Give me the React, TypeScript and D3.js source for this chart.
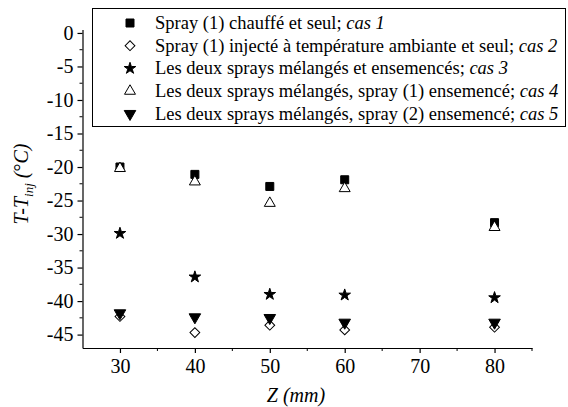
import { useEffect, useRef } from "react";
import * as d3 from "d3";

const Z = [30, 40, 50, 60, 80];
const CAS1 = [-20.0, -21.1, -22.9, -21.9, -28.3];
const CAS2 = [-42.3, -44.7, -43.6, -44.3, -43.9];
const CAS3 = [-29.9, -36.4, -39.0, -39.1, -39.5];
const CAS4 = [-20.2, -22.2, -25.4, -23.2, -29.0];
const CAS5 = [-41.8, -42.4, -42.5, -43.2, -43.2];

const X_TICKS = [30, 40, 50, 60, 70, 80];
const X_MINOR = [35, 45, 55, 65, 75, 85];
const Y_TICKS = [0, -5, -10, -15, -20, -25, -30, -35, -40, -45];
const Y_MINOR = [-2.5, -7.5, -12.5, -17.5, -22.5, -27.5, -32.5, -37.5, -42.5];

type Marker = "square" | "diamond" | "star" | "up" | "down";

const SERIES: { values: number[]; marker: Marker; label: string; cas: string }[] = [
  { values: CAS1, marker: "square", label: "Spray (1) chauffé et seul; ", cas: "cas 1" },
  { values: CAS2, marker: "diamond", label: "Spray (1) injecté à température ambiante et seul; ", cas: "cas 2" },
  { values: CAS3, marker: "star", label: "Les deux sprays mélangés et ensemencés; ", cas: "cas 3" },
  { values: CAS4, marker: "up", label: "Les deux sprays mélangés, spray (1) ensemencé; ", cas: "cas 4" },
  { values: CAS5, marker: "down", label: "Les deux sprays mélangés, spray (2) ensemencé; ", cas: "cas 5" },
];

const FONT = "Liberation Serif";

function symbolFor(m: Marker) {
  switch (m) {
    case "square":
      return { path: d3.symbol(d3.symbolSquare, 64)()!, rot: 0, filled: true };
    case "diamond":
      return { path: d3.symbol(d3.symbolSquare, 48)()!, rot: 45, filled: false };
    case "star":
      return { path: d3.symbol(d3.symbolStar, 42)()!, rot: 0, filled: true };
    case "up":
      return { path: d3.symbol(d3.symbolTriangle, 52)()!, rot: 0, filled: false };
    case "down":
      return { path: d3.symbol(d3.symbolTriangle, 58)()!, rot: 180, filled: true };
  }
}

export default function App() {
  const ref = useRef<SVGSVGElement | null>(null);

  useEffect(() => {
    const svg = d3.select(ref.current);
    svg.selectAll("*").remove();

    const x = d3.scaleLinear().domain([25, 85]).range([82.5, 532]);
    const y = d3.scaleLinear().domain([-47, 0.5]).range([348, 29.6]);
    const fmt = (d: d3.NumberValue) => String(d);

    // axes: only left and bottom, ticks outward
    const xAxis = svg.append("g").attr("transform", `translate(0,${y(-47)})`);
    xAxis
      .call(d3.axisBottom(x).tickValues(X_TICKS).tickFormat(fmt).tickSize(5).tickSizeOuter(0).tickPadding(6))
      .attr("font-family", null)
      .call((s) => s.selectAll("text").attr("font-size", 20).attr("fill", "#000"))
      .call((s) => s.selectAll("line,path").attr("stroke", "#000").attr("stroke-width", 1.2));
    xAxis
      .selectAll("line.minor")
      .data(X_MINOR)
      .join("line")
      .attr("class", "minor")
      .attr("x1", (d) => x(d))
      .attr("x2", (d) => x(d))
      .attr("y1", 0)
      .attr("y2", 3)
      .attr("stroke", "#000");

    const yAxis = svg.append("g").attr("transform", `translate(${x(25)},0)`);
    yAxis
      .call(d3.axisLeft(y).tickValues(Y_TICKS).tickFormat(fmt).tickSize(5).tickSizeOuter(0).tickPadding(4))
      .attr("font-family", null)
      .call((s) => s.selectAll("text").attr("font-size", 20).attr("fill", "#000"))
      .call((s) => s.selectAll("line,path").attr("stroke", "#000").attr("stroke-width", 1.2));
    yAxis
      .selectAll("line.minor")
      .data(Y_MINOR)
      .join("line")
      .attr("class", "minor")
      .attr("x1", 0)
      .attr("x2", -3)
      .attr("y1", (d) => y(d))
      .attr("y2", (d) => y(d))
      .attr("stroke", "#000");

    // points
    SERIES.forEach((s) => {
      const sym = symbolFor(s.marker);
      svg
        .append("g")
        .selectAll("path")
        .data(s.values.map((v, i) => ({ z: Z[i], v })))
        .join("path")
        .attr("d", sym.path)
        .attr("transform", (d) => `translate(${x(d.z)},${y(d.v)}) rotate(${sym.rot})`)
        .attr("fill", sym.filled ? "#000" : "#fff")
        .attr("stroke", "#000")
        .attr("stroke-width", 1);
    });

    // legend
    const lg = svg.append("g");
    lg.append("rect")
      .attr("x", 92.5)
      .attr("y", 8.5)
      .attr("width", 473)
      .attr("height", 118)
      .attr("fill", "#fff")
      .attr("stroke", "#000")
      .attr("stroke-width", 1);
    SERIES.forEach((s, i) => {
      const cy = 23 + i * 22.7;
      const sym = symbolFor(s.marker);
      lg.append("path")
        .attr("d", sym.path)
        .attr("transform", `translate(130,${cy}) rotate(${sym.rot})`)
        .attr("fill", sym.filled ? "#000" : "#fff")
        .attr("stroke", "#000");
      const t = lg
        .append("text")
        .attr("x", 155)
        .attr("y", cy + 6)
        .attr("font-size", 18.5)
        .attr("fill", "#000");
      t.append("tspan").text(s.label);
      t.append("tspan").attr("font-style", "italic").text(s.cas);
    });

    // axis titles
    const xt = svg
      .append("text")
      .attr("x", 296)
      .attr("y", 402)
      .attr("text-anchor", "middle")
      .attr("font-size", 20)
      .attr("font-style", "italic");
    xt.append("tspan").text("Z ");
    xt.append("tspan").text("(mm)");

    const yt = svg
      .append("text")
      .attr("transform", "translate(28,184) rotate(-90)")
      .attr("text-anchor", "middle")
      .attr("font-size", 20)
      .attr("font-style", "italic");
    yt.append("tspan").text("T-T");
    yt.append("tspan").attr("font-size", 13).attr("dy", 5).text("inj");
    yt.append("tspan").attr("dy", -5).text(" (");
    yt.append("tspan").attr("font-style", "normal").text("°");
    yt.append("tspan").text("C)");
  }, []);

  return (
    <>
      <style>{`body{margin:0}`}</style>
      <svg
        ref={ref}
        width={568}
        height={407}
        style={{ display: "block", background: "#fff", fontFamily: FONT }}
      />
    </>
  );
}
